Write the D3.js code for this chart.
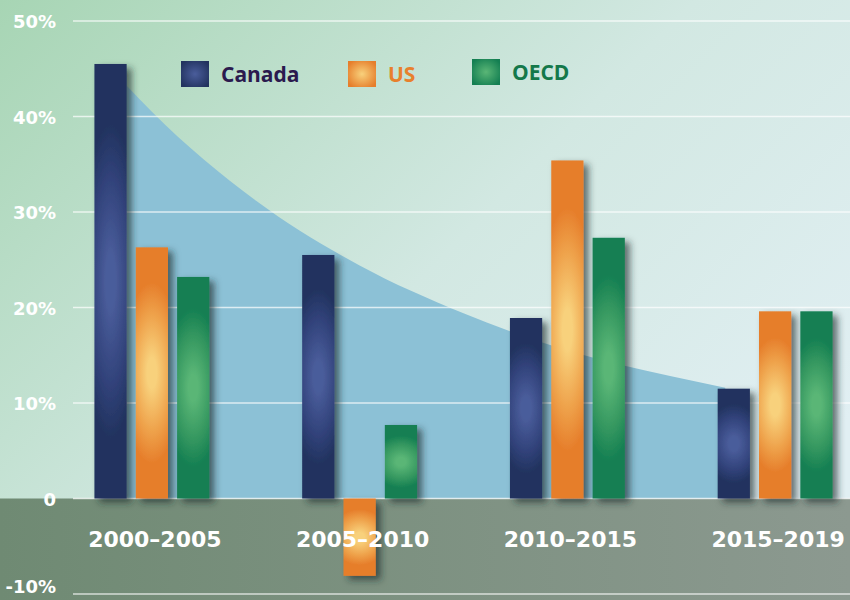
<!DOCTYPE html>
<html>
<head>
<meta charset="utf-8">
<script src="https://cdn.jsdelivr.net/npm/d3@7"></script>
<style>
  html, body { margin: 0; padding: 0; background: #fff; }
  svg { display: block; }
</style>
</head>
<body>
<div id="chart"></div>
<script>
// chart data
var categories = ["2000–2005", "2005–2010", "2010–2015", "2015–2019"]
var seriesNames = ["Canada", "US", "OECD"]
var canada = [45.5, 25.5, 18.9, 11.5]
var us = [26.3, -8.1, 35.4, 19.6]
var oecd = [23.2, 7.7, 27.3, 19.6]
var yTicks = [-10, 0, 10, 20, 30, 40, 50]
var yTickLabels = ["-10%", "0", "10%", "20%", "30%", "40%", "50%"]
// decorative falling curve behind the bars (position in category steps, value in %)
var trendPos = [-0.12, 0, 0.5, 1, 1.5, 2, 2.5, 2.76]
var trendVal = [43.2, 40.5, 31.2, 24.4, 19.4, 15.5, 12.8, 11.6]

var width = 850, height = 600

var colors = {
    "Canada": { edge: "#22335f", mid: "#31427a", center: "#4a5d9b", text: "#2b1a4e" },
    "US": { edge: "#e67e2b", mid: "#eea049", center: "#f8d17c", text: "#e8802c" },
    "OECD": { edge: "#147f52", mid: "#33965f", center: "#5ab676", text: "#14784a" }
}

var svg = d3.select("#chart").append("svg")
    .attr("width", width).attr("height", height)

var defs = svg.append("defs")

var bg = defs.append("linearGradient").attr("id", "bgGrad")
    .attr("x1", 0).attr("y1", 0).attr("x2", 1).attr("y2", 0.7)
bg.append("stop").attr("offset", "0%").attr("stop-color", "#a7d5b4")
bg.append("stop").attr("offset", "55%").attr("stop-color", "#d2e8e2")
bg.append("stop").attr("offset", "100%").attr("stop-color", "#e1eff3")

var floor = defs.append("linearGradient").attr("id", "floorGrad")
    .attr("x1", 0).attr("y1", 0).attr("x2", 1).attr("y2", 0)
floor.append("stop").attr("offset", "0%").attr("stop-color", "#6f8a73")
floor.append("stop").attr("offset", "100%").attr("stop-color", "#8c9990")

seriesNames.forEach(function (s) {
    var c = colors[s]
    // glow in the middle of each bar, mostly vertical
    var g = defs.append("radialGradient").attr("id", "grad" + s)
        .attr("cx", 0.5).attr("cy", 0.5).attr("r", 0.5)
        .attr("gradientTransform", "translate(0.5,0.5) scale(2.5,1) translate(-0.5,-0.5)")
    g.append("stop").attr("offset", "0%").attr("stop-color", c.center)
    g.append("stop").attr("offset", "12%").attr("stop-color", c.center)
    g.append("stop").attr("offset", "48%").attr("stop-color", c.mid)
    g.append("stop").attr("offset", "72%").attr("stop-color", c.edge)
    g.append("stop").attr("offset", "100%").attr("stop-color", c.edge)

    var lg = defs.append("radialGradient").attr("id", "legend" + s)
        .attr("cx", 0.5).attr("cy", 0.5).attr("r", 0.6)
    lg.append("stop").attr("offset", "0%").attr("stop-color", c.center)
    lg.append("stop").attr("offset", "100%").attr("stop-color", c.edge)
})

var shadow = defs.append("filter").attr("id", "shadow")
    .attr("x", "-30%").attr("y", "-10%").attr("width", "180%").attr("height", "130%")
shadow.append("feDropShadow")
    .attr("dx", 5).attr("dy", 4).attr("stdDeviation", 3.5)
    .attr("flood-color", "#1e2a2a").attr("flood-opacity", 0.65)

// scales
var x0 = d3.scaleBand().domain(categories).range([48, 879]).padding(0)
var x1 = d3.scaleBand().domain(seriesNames).range([-62, 62]).paddingInner(0.22).paddingOuter(0.11)
var y = d3.scaleLinear().domain([-10, 50]).range([594, 21])
var tx = d3.scaleLinear().domain([0, 3])
    .range([x0(categories[0]) + x0.bandwidth() / 2, x0(categories[3]) + x0.bandwidth() / 2])

// background
svg.append("rect").attr("width", width).attr("height", height).attr("fill", "url(#bgGrad)")
svg.append("rect").attr("x", 0).attr("y", y(0)).attr("width", width).attr("height", height - y(0))
    .attr("fill", "url(#floorGrad)")

// decorative area
var trendData = trendPos.map(function (p, i) { return { pos: p, val: trendVal[i] } })
svg.append("path")
    .datum(trendData)
    .attr("fill", "#8cc1d6")
    .attr("d", d3.area()
        .x(function (d) { return tx(d.pos) })
        .y0(y(0))
        .y1(function (d) { return y(d.val) })
        .curve(d3.curveMonotoneX))

// gridlines
svg.append("g")
    .selectAll("line")
    .data(yTicks)
    .enter()
    .append("line")
    .attr("x1", 73).attr("x2", width)
    .attr("y1", function (d) { return y(d) }).attr("y2", function (d) { return y(d) })
    .attr("stroke", "#ffffff").attr("stroke-opacity", 0.7).attr("stroke-width", 1.5)

// bars
var rows = []
categories.forEach(function (cat, i) {
    rows.push({ cat: cat, series: "Canada", value: canada[i] })
    rows.push({ cat: cat, series: "US", value: us[i] })
    rows.push({ cat: cat, series: "OECD", value: oecd[i] })
})

svg.append("g")
    .selectAll("rect")
    .data(rows)
    .enter()
    .append("rect")
    .attr("x", function (d) { return x0(d.cat) + x0.bandwidth() / 2 + x1(d.series) })
    .attr("width", x1.bandwidth())
    .attr("y", function (d) { return y(Math.max(0, d.value)) })
    .attr("height", function (d) { return Math.abs(y(d.value) - y(0)) })
    .attr("fill", function (d) { return "url(#grad" + d.series + ")" })
    .attr("filter", "url(#shadow)")

// category labels
svg.append("g")
    .selectAll("text")
    .data(categories)
    .enter()
    .append("text")
    .attr("x", function (d) { return x0(d) + x0.bandwidth() / 2 + 3 })
    .attr("y", 547)
    .attr("text-anchor", "middle")
    .attr("font-family", "DejaVu Sans")
    .attr("font-weight", "bold")
    .attr("font-size", "22px")
    .attr("fill", "#ffffff")
    .text(function (d) { return d })

// y tick labels (bottom one kept inside the frame)
svg.append("g")
    .selectAll("text")
    .data(yTicks)
    .enter()
    .append("text")
    .attr("x", 56)
    .attr("y", function (d) { return Math.min(y(d) + 7, 593) })
    .attr("text-anchor", "end")
    .attr("font-family", "DejaVu Sans")
    .attr("font-weight", "bold")
    .attr("font-size", "18px")
    .attr("fill", "#ffffff")
    .text(function (d, i) { return yTickLabels[i] })

// legend
var legendX = [181, 348, 472]
var legendY = [61, 61, 59]
var legend = svg.append("g")
    .selectAll("g")
    .data(seriesNames)
    .enter()
    .append("g")
    .attr("transform", function (d, i) { return "translate(" + legendX[i] + "," + legendY[i] + ")" })
legend.append("rect")
    .attr("width", 28).attr("height", 26)
    .attr("fill", function (d) { return "url(#legend" + d + ")" })
legend.append("text")
    .attr("x", 40).attr("y", 21)
    .attr("font-family", "Open Sans")
    .attr("font-weight", "bold")
    .attr("font-size", "21px")
    .attr("fill", function (d) { return colors[d].text })
    .text(function (d) { return d })
</script>
</body>
</html>
